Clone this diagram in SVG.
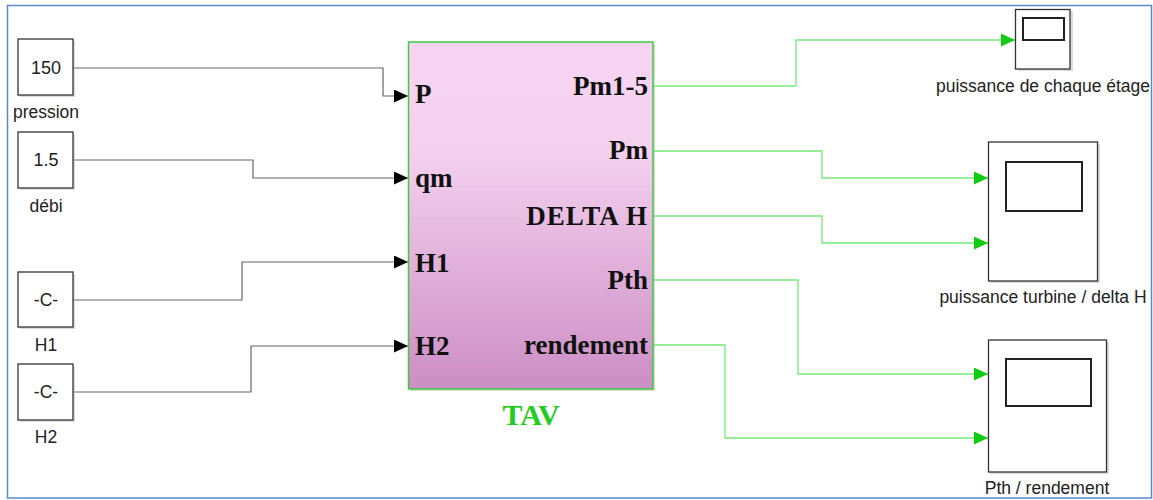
<svg xmlns="http://www.w3.org/2000/svg" width="1153" height="500" viewBox="0 0 1153 500">
<style>
.blk{fill:#fff;stroke:#333;stroke-width:1.3}
.shadow{fill:#bbb;opacity:0.5}
.val{font-family:"Liberation Sans",Arial,sans-serif;font-size:18px;fill:#222;text-anchor:middle}
.lbl{font-family:"Liberation Sans",Arial,sans-serif;font-size:17.5px;fill:#222;text-anchor:middle}
.port{font-family:"Liberation Serif","Times New Roman",serif;font-size:27px;font-weight:bold;fill:#111}
.wk{fill:none;stroke:#666;stroke-width:1.2}
.wg{fill:none;stroke:#77e877;stroke-width:1.3}
.scr{fill:#fff;stroke:#222;stroke-width:2}
</style>
<defs>
<linearGradient id="tavGrad" x1="0" y1="0" x2="0" y2="1">
<stop offset="0" stop-color="#f7d5f2"/>
<stop offset="0.32" stop-color="#f4d0ef"/>
<stop offset="1" stop-color="#cc8ec4"/>
</linearGradient>
<marker id="arrK" viewBox="0 0 14 13" refX="14" refY="6.5" markerWidth="14" markerHeight="13" markerUnits="userSpaceOnUse" orient="auto">
<path d="M0,0 L14,6.5 L0,13 z" fill="#000"/>
</marker>
<marker id="arrG" viewBox="0 0 14 13" refX="14" refY="6.5" markerWidth="14" markerHeight="13" markerUnits="userSpaceOnUse" orient="auto">
<path d="M0,0 L14,6.5 L0,13 z" fill="#11cc11"/>
</marker>
</defs>
<rect x="0" y="0" width="1153" height="500" fill="#fff"/>
<rect x="7.5" y="5.5" width="1144" height="492.5" fill="none" stroke="#5b8ac6" stroke-width="1.5"/>

<g id="connectors">
<polyline class="wk" points="73,68 383,68 383,96 408,96" marker-end="url(#arrK)"/>
<polyline class="wk" points="73,160 253,160 253,178 408,178" marker-end="url(#arrK)"/>
<polyline class="wk" points="73,300 242,300 242,262 408,262" marker-end="url(#arrK)"/>
<polyline class="wk" points="73,392 251,392 251,346 408,346" marker-end="url(#arrK)"/>
<polyline class="wg" points="653,86 796,86 796,40 1015,40" marker-end="url(#arrG)"/>
<polyline class="wg" points="653,151 822,151 822,178 988,178" marker-end="url(#arrG)"/>
<polyline class="wg" points="653,216 822,216 822,243 988,243" marker-end="url(#arrG)"/>
<polyline class="wg" points="653,280 798,280 798,374 988,374" marker-end="url(#arrG)"/>
<polyline class="wg" points="653,345 725,345 725,438 988,438" marker-end="url(#arrG)"/>
</g>

<g id="pression">
<rect class="shadow" x="20" y="41" width="55" height="56"/>
<rect class="blk" x="18" y="39" width="55" height="56"/>
<text class="val" x="46" y="74">150</text>
<text class="lbl" x="46" y="118">pression</text>
</g>
<g id="debi">
<rect class="shadow" x="20" y="134" width="55" height="56"/>
<rect class="blk" x="18" y="132" width="55" height="56"/>
<text class="val" x="46" y="166">1.5</text>
<text class="lbl" x="46" y="212">débi</text>
</g>
<g id="H1">
<rect class="shadow" x="20" y="274" width="55" height="55"/>
<rect class="blk" x="18" y="272" width="55" height="55"/>
<text class="lbl" x="46" y="306">-C-</text>
<text class="lbl" x="46" y="351">H1</text>
</g>
<g id="H2">
<rect class="shadow" x="20" y="366" width="55" height="56"/>
<rect class="blk" x="18" y="364" width="55" height="56"/>
<text class="lbl" x="46" y="398">-C-</text>
<text class="lbl" x="46" y="443">H2</text>
</g>

<g id="TAV">
<rect x="410" y="44" width="245" height="347" fill="#bbb" opacity="0.5"/>
<rect x="408.5" y="42" width="244.5" height="347" fill="url(#tavGrad)" stroke="#3ccc3c" stroke-width="1.5"/>
<text class="port" x="415" y="103">P</text>
<text class="port" x="415" y="187">qm</text>
<text class="port" x="415" y="272">H1</text>
<text class="port" x="415" y="355">H2</text>
<text class="port" x="648" y="95" text-anchor="end">Pm1-5</text>
<text class="port" x="648" y="159" text-anchor="end">Pm</text>
<text class="port" x="648" y="225" text-anchor="end" letter-spacing="1">DELTA H</text>
<text class="port" x="648" y="289" text-anchor="end">Pth</text>
<text class="port" x="648" y="354" text-anchor="end">rendement</text>
<text x="531" y="425" text-anchor="middle" font-family="'Liberation Serif','Times New Roman',serif" font-size="30" font-weight="bold" fill="#22cc22">TAV</text>
</g>

<g id="scope1">
<rect class="shadow" x="1018" y="11" width="55" height="60"/>
<rect class="blk" x="1015.5" y="9.5" width="54.5" height="59.5"/>
<rect class="scr" x="1023" y="18" width="41" height="22"/>
<text class="lbl" x="1043" y="92">puissance de chaque étage</text>
</g>
<g id="scope2">
<rect class="shadow" x="990" y="144" width="110" height="139"/>
<rect class="blk" x="988.5" y="142" width="109" height="139"/>
<rect class="scr" x="1006" y="162" width="76" height="49"/>
<text class="lbl" x="1043" y="303">puissance turbine / delta H</text>
</g>
<g id="scope3">
<rect class="shadow" x="990" y="342" width="119" height="132"/>
<rect class="blk" x="988.5" y="340" width="118" height="132"/>
<rect class="scr" x="1006" y="359" width="85" height="47"/>
<text class="lbl" x="1047" y="494">Pth / rendement</text>
</g>
</svg>
